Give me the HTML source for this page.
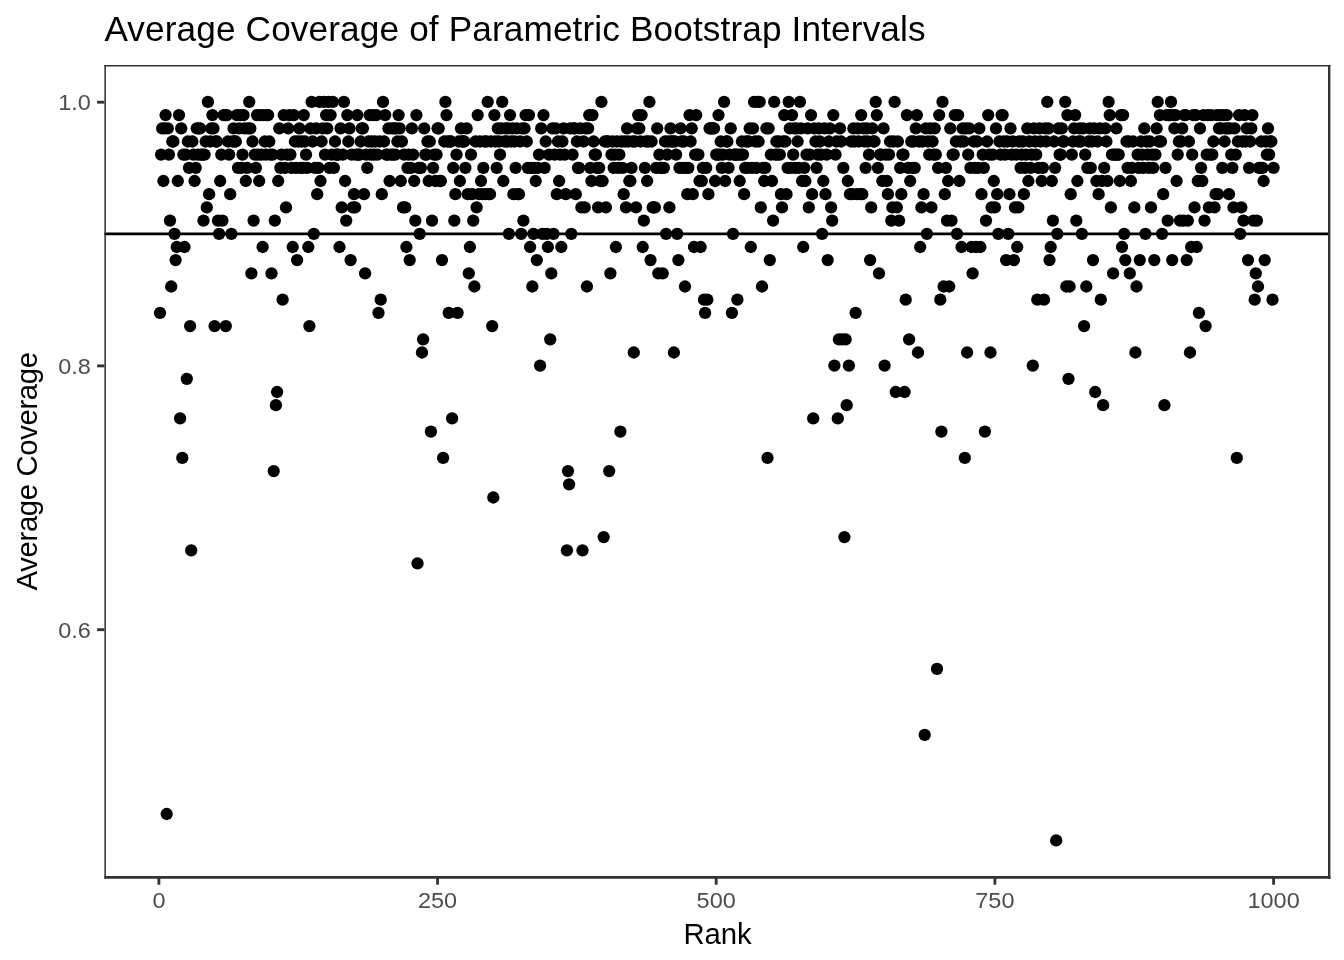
<!DOCTYPE html>
<html lang="en">
<head>
<meta charset="utf-8">
<title>Average Coverage of Parametric Bootstrap Intervals</title>
<style>
html,body{margin:0;padding:0;background:#fff;}
body{width:1344px;height:960px;overflow:hidden;}
svg{display:block;}
text{font-family:"Liberation Sans",Arial,Helvetica,sans-serif;}
.tk{fill:#4d4d4d;font-size:23.47px;}
.ax{fill:#000;font-size:29.33px;}
.ti{fill:#000;font-size:35.2px;}
</style>
</head>
<body>
<svg width="1344" height="960" viewBox="0 0 1344 960">
<rect x="0" y="0" width="1344" height="960" fill="#ffffff"/>
<text class="ti" x="104.4" y="41" textLength="821.2" lengthAdjust="spacing">Average Coverage of Parametric Bootstrap Intervals</text>
<g fill="#000000">
<circle cx="160.0" cy="312.9" r="6.15"/>
<circle cx="161.1" cy="154.6" r="6.15"/>
<circle cx="162.2" cy="128.3" r="6.15"/>
<circle cx="163.4" cy="181.0" r="6.15"/>
<circle cx="164.5" cy="128.3" r="6.15"/>
<circle cx="165.6" cy="115.1" r="6.15"/>
<circle cx="166.7" cy="814.0" r="6.15"/>
<circle cx="167.8" cy="128.3" r="6.15"/>
<circle cx="168.9" cy="154.6" r="6.15"/>
<circle cx="170.0" cy="220.6" r="6.15"/>
<circle cx="171.2" cy="286.5" r="6.15"/>
<circle cx="172.3" cy="141.5" r="6.15"/>
<circle cx="173.4" cy="141.5" r="6.15"/>
<circle cx="174.5" cy="233.8" r="6.15"/>
<circle cx="175.6" cy="260.1" r="6.15"/>
<circle cx="176.7" cy="247.0" r="6.15"/>
<circle cx="177.8" cy="181.0" r="6.15"/>
<circle cx="179.0" cy="115.1" r="6.15"/>
<circle cx="180.1" cy="418.4" r="6.15"/>
<circle cx="181.2" cy="128.3" r="6.15"/>
<circle cx="182.3" cy="457.9" r="6.15"/>
<circle cx="183.4" cy="154.6" r="6.15"/>
<circle cx="184.5" cy="247.0" r="6.15"/>
<circle cx="185.7" cy="154.6" r="6.15"/>
<circle cx="186.8" cy="378.8" r="6.15"/>
<circle cx="187.9" cy="141.5" r="6.15"/>
<circle cx="189.0" cy="167.8" r="6.15"/>
<circle cx="190.1" cy="326.1" r="6.15"/>
<circle cx="191.2" cy="550.3" r="6.15"/>
<circle cx="192.3" cy="141.5" r="6.15"/>
<circle cx="193.5" cy="154.6" r="6.15"/>
<circle cx="194.6" cy="181.0" r="6.15"/>
<circle cx="195.7" cy="167.8" r="6.15"/>
<circle cx="196.8" cy="128.3" r="6.15"/>
<circle cx="197.9" cy="154.6" r="6.15"/>
<circle cx="199.0" cy="128.3" r="6.15"/>
<circle cx="200.1" cy="128.3" r="6.15"/>
<circle cx="201.3" cy="154.6" r="6.15"/>
<circle cx="202.4" cy="154.6" r="6.15"/>
<circle cx="203.5" cy="220.6" r="6.15"/>
<circle cx="204.6" cy="154.6" r="6.15"/>
<circle cx="205.7" cy="141.5" r="6.15"/>
<circle cx="206.8" cy="207.4" r="6.15"/>
<circle cx="207.9" cy="101.9" r="6.15"/>
<circle cx="209.1" cy="194.2" r="6.15"/>
<circle cx="210.2" cy="141.5" r="6.15"/>
<circle cx="211.3" cy="128.3" r="6.15"/>
<circle cx="212.4" cy="115.1" r="6.15"/>
<circle cx="213.5" cy="128.3" r="6.15"/>
<circle cx="214.6" cy="326.1" r="6.15"/>
<circle cx="215.7" cy="141.5" r="6.15"/>
<circle cx="216.9" cy="141.5" r="6.15"/>
<circle cx="218.0" cy="220.6" r="6.15"/>
<circle cx="219.1" cy="233.8" r="6.15"/>
<circle cx="220.2" cy="181.0" r="6.15"/>
<circle cx="221.3" cy="154.6" r="6.15"/>
<circle cx="222.4" cy="220.6" r="6.15"/>
<circle cx="223.6" cy="115.1" r="6.15"/>
<circle cx="224.7" cy="115.1" r="6.15"/>
<circle cx="225.8" cy="326.1" r="6.15"/>
<circle cx="226.9" cy="115.1" r="6.15"/>
<circle cx="228.0" cy="141.5" r="6.15"/>
<circle cx="229.1" cy="154.6" r="6.15"/>
<circle cx="230.2" cy="194.2" r="6.15"/>
<circle cx="231.4" cy="233.8" r="6.15"/>
<circle cx="232.5" cy="141.5" r="6.15"/>
<circle cx="233.6" cy="128.3" r="6.15"/>
<circle cx="234.7" cy="141.5" r="6.15"/>
<circle cx="235.8" cy="141.5" r="6.15"/>
<circle cx="236.9" cy="115.1" r="6.15"/>
<circle cx="238.0" cy="167.8" r="6.15"/>
<circle cx="239.2" cy="128.3" r="6.15"/>
<circle cx="240.3" cy="115.1" r="6.15"/>
<circle cx="241.4" cy="167.8" r="6.15"/>
<circle cx="242.5" cy="154.6" r="6.15"/>
<circle cx="243.6" cy="115.1" r="6.15"/>
<circle cx="244.7" cy="128.3" r="6.15"/>
<circle cx="245.8" cy="181.0" r="6.15"/>
<circle cx="247.0" cy="167.8" r="6.15"/>
<circle cx="248.1" cy="128.3" r="6.15"/>
<circle cx="249.2" cy="101.9" r="6.15"/>
<circle cx="250.3" cy="128.3" r="6.15"/>
<circle cx="251.4" cy="273.3" r="6.15"/>
<circle cx="252.5" cy="141.5" r="6.15"/>
<circle cx="253.6" cy="220.6" r="6.15"/>
<circle cx="254.8" cy="154.6" r="6.15"/>
<circle cx="255.9" cy="167.8" r="6.15"/>
<circle cx="257.0" cy="115.1" r="6.15"/>
<circle cx="258.1" cy="154.6" r="6.15"/>
<circle cx="259.2" cy="181.0" r="6.15"/>
<circle cx="260.3" cy="115.1" r="6.15"/>
<circle cx="261.5" cy="154.6" r="6.15"/>
<circle cx="262.6" cy="247.0" r="6.15"/>
<circle cx="263.7" cy="115.1" r="6.15"/>
<circle cx="264.8" cy="141.5" r="6.15"/>
<circle cx="265.9" cy="154.6" r="6.15"/>
<circle cx="267.0" cy="115.1" r="6.15"/>
<circle cx="268.1" cy="115.1" r="6.15"/>
<circle cx="269.3" cy="141.5" r="6.15"/>
<circle cx="270.4" cy="154.6" r="6.15"/>
<circle cx="271.5" cy="273.3" r="6.15"/>
<circle cx="272.6" cy="154.6" r="6.15"/>
<circle cx="273.7" cy="471.1" r="6.15"/>
<circle cx="274.8" cy="220.6" r="6.15"/>
<circle cx="275.9" cy="405.2" r="6.15"/>
<circle cx="277.1" cy="392.0" r="6.15"/>
<circle cx="278.2" cy="181.0" r="6.15"/>
<circle cx="279.3" cy="128.3" r="6.15"/>
<circle cx="280.4" cy="167.8" r="6.15"/>
<circle cx="281.5" cy="154.6" r="6.15"/>
<circle cx="282.6" cy="299.7" r="6.15"/>
<circle cx="283.7" cy="115.1" r="6.15"/>
<circle cx="284.9" cy="167.8" r="6.15"/>
<circle cx="286.0" cy="207.4" r="6.15"/>
<circle cx="287.1" cy="154.6" r="6.15"/>
<circle cx="288.2" cy="128.3" r="6.15"/>
<circle cx="289.3" cy="115.1" r="6.15"/>
<circle cx="290.4" cy="154.6" r="6.15"/>
<circle cx="291.5" cy="167.8" r="6.15"/>
<circle cx="292.7" cy="247.0" r="6.15"/>
<circle cx="293.8" cy="115.1" r="6.15"/>
<circle cx="294.9" cy="141.5" r="6.15"/>
<circle cx="296.0" cy="167.8" r="6.15"/>
<circle cx="297.1" cy="260.1" r="6.15"/>
<circle cx="298.2" cy="141.5" r="6.15"/>
<circle cx="299.4" cy="128.3" r="6.15"/>
<circle cx="300.5" cy="167.8" r="6.15"/>
<circle cx="301.6" cy="141.5" r="6.15"/>
<circle cx="302.7" cy="167.8" r="6.15"/>
<circle cx="303.8" cy="115.1" r="6.15"/>
<circle cx="304.9" cy="141.5" r="6.15"/>
<circle cx="306.0" cy="154.6" r="6.15"/>
<circle cx="307.2" cy="167.8" r="6.15"/>
<circle cx="308.3" cy="247.0" r="6.15"/>
<circle cx="309.4" cy="326.1" r="6.15"/>
<circle cx="310.5" cy="128.3" r="6.15"/>
<circle cx="311.6" cy="101.9" r="6.15"/>
<circle cx="312.7" cy="141.5" r="6.15"/>
<circle cx="313.8" cy="233.8" r="6.15"/>
<circle cx="315.0" cy="167.8" r="6.15"/>
<circle cx="316.1" cy="128.3" r="6.15"/>
<circle cx="317.2" cy="194.2" r="6.15"/>
<circle cx="318.3" cy="167.8" r="6.15"/>
<circle cx="319.4" cy="101.9" r="6.15"/>
<circle cx="320.5" cy="181.0" r="6.15"/>
<circle cx="321.6" cy="141.5" r="6.15"/>
<circle cx="322.8" cy="128.3" r="6.15"/>
<circle cx="323.9" cy="101.9" r="6.15"/>
<circle cx="325.0" cy="154.6" r="6.15"/>
<circle cx="326.1" cy="115.1" r="6.15"/>
<circle cx="327.2" cy="128.3" r="6.15"/>
<circle cx="328.3" cy="101.9" r="6.15"/>
<circle cx="329.4" cy="167.8" r="6.15"/>
<circle cx="330.6" cy="115.1" r="6.15"/>
<circle cx="331.7" cy="154.6" r="6.15"/>
<circle cx="332.8" cy="101.9" r="6.15"/>
<circle cx="333.9" cy="167.8" r="6.15"/>
<circle cx="335.0" cy="141.5" r="6.15"/>
<circle cx="336.1" cy="154.6" r="6.15"/>
<circle cx="337.3" cy="154.6" r="6.15"/>
<circle cx="338.4" cy="154.6" r="6.15"/>
<circle cx="339.5" cy="247.0" r="6.15"/>
<circle cx="340.6" cy="128.3" r="6.15"/>
<circle cx="341.7" cy="207.4" r="6.15"/>
<circle cx="342.8" cy="154.6" r="6.15"/>
<circle cx="343.9" cy="101.9" r="6.15"/>
<circle cx="345.1" cy="181.0" r="6.15"/>
<circle cx="346.2" cy="220.6" r="6.15"/>
<circle cx="347.3" cy="115.1" r="6.15"/>
<circle cx="348.4" cy="141.5" r="6.15"/>
<circle cx="349.5" cy="128.3" r="6.15"/>
<circle cx="350.6" cy="260.1" r="6.15"/>
<circle cx="351.7" cy="154.6" r="6.15"/>
<circle cx="352.9" cy="207.4" r="6.15"/>
<circle cx="354.0" cy="194.2" r="6.15"/>
<circle cx="355.1" cy="207.4" r="6.15"/>
<circle cx="356.2" cy="154.6" r="6.15"/>
<circle cx="357.3" cy="115.1" r="6.15"/>
<circle cx="358.4" cy="154.6" r="6.15"/>
<circle cx="359.5" cy="154.6" r="6.15"/>
<circle cx="360.7" cy="141.5" r="6.15"/>
<circle cx="361.8" cy="128.3" r="6.15"/>
<circle cx="362.9" cy="128.3" r="6.15"/>
<circle cx="364.0" cy="194.2" r="6.15"/>
<circle cx="365.1" cy="273.3" r="6.15"/>
<circle cx="366.2" cy="154.6" r="6.15"/>
<circle cx="367.3" cy="167.8" r="6.15"/>
<circle cx="368.5" cy="141.5" r="6.15"/>
<circle cx="369.6" cy="115.1" r="6.15"/>
<circle cx="370.7" cy="154.6" r="6.15"/>
<circle cx="371.8" cy="141.5" r="6.15"/>
<circle cx="372.9" cy="115.1" r="6.15"/>
<circle cx="374.0" cy="154.6" r="6.15"/>
<circle cx="375.2" cy="141.5" r="6.15"/>
<circle cx="376.3" cy="115.1" r="6.15"/>
<circle cx="377.4" cy="154.6" r="6.15"/>
<circle cx="378.5" cy="312.9" r="6.15"/>
<circle cx="379.6" cy="141.5" r="6.15"/>
<circle cx="380.7" cy="299.7" r="6.15"/>
<circle cx="381.8" cy="194.2" r="6.15"/>
<circle cx="383.0" cy="101.9" r="6.15"/>
<circle cx="384.1" cy="141.5" r="6.15"/>
<circle cx="385.2" cy="115.1" r="6.15"/>
<circle cx="386.3" cy="154.6" r="6.15"/>
<circle cx="387.4" cy="154.6" r="6.15"/>
<circle cx="388.5" cy="128.3" r="6.15"/>
<circle cx="389.6" cy="181.0" r="6.15"/>
<circle cx="390.8" cy="154.6" r="6.15"/>
<circle cx="391.9" cy="128.3" r="6.15"/>
<circle cx="393.0" cy="154.6" r="6.15"/>
<circle cx="394.1" cy="128.3" r="6.15"/>
<circle cx="395.2" cy="154.6" r="6.15"/>
<circle cx="396.3" cy="128.3" r="6.15"/>
<circle cx="397.4" cy="141.5" r="6.15"/>
<circle cx="398.6" cy="115.1" r="6.15"/>
<circle cx="399.7" cy="128.3" r="6.15"/>
<circle cx="400.8" cy="181.0" r="6.15"/>
<circle cx="401.9" cy="141.5" r="6.15"/>
<circle cx="403.0" cy="207.4" r="6.15"/>
<circle cx="404.1" cy="154.6" r="6.15"/>
<circle cx="405.2" cy="207.4" r="6.15"/>
<circle cx="406.4" cy="247.0" r="6.15"/>
<circle cx="407.5" cy="167.8" r="6.15"/>
<circle cx="408.6" cy="154.6" r="6.15"/>
<circle cx="409.7" cy="260.1" r="6.15"/>
<circle cx="410.8" cy="167.8" r="6.15"/>
<circle cx="411.9" cy="128.3" r="6.15"/>
<circle cx="413.1" cy="154.6" r="6.15"/>
<circle cx="414.2" cy="181.0" r="6.15"/>
<circle cx="415.3" cy="220.6" r="6.15"/>
<circle cx="416.4" cy="115.1" r="6.15"/>
<circle cx="417.5" cy="563.4" r="6.15"/>
<circle cx="418.6" cy="167.8" r="6.15"/>
<circle cx="419.7" cy="233.8" r="6.15"/>
<circle cx="420.9" cy="167.8" r="6.15"/>
<circle cx="422.0" cy="352.5" r="6.15"/>
<circle cx="423.1" cy="339.3" r="6.15"/>
<circle cx="424.2" cy="128.3" r="6.15"/>
<circle cx="425.3" cy="154.6" r="6.15"/>
<circle cx="426.4" cy="154.6" r="6.15"/>
<circle cx="427.5" cy="141.5" r="6.15"/>
<circle cx="428.7" cy="181.0" r="6.15"/>
<circle cx="429.8" cy="141.5" r="6.15"/>
<circle cx="430.9" cy="431.6" r="6.15"/>
<circle cx="432.0" cy="220.6" r="6.15"/>
<circle cx="433.1" cy="167.8" r="6.15"/>
<circle cx="434.2" cy="154.6" r="6.15"/>
<circle cx="435.3" cy="181.0" r="6.15"/>
<circle cx="436.5" cy="154.6" r="6.15"/>
<circle cx="437.6" cy="128.3" r="6.15"/>
<circle cx="438.7" cy="128.3" r="6.15"/>
<circle cx="439.8" cy="181.0" r="6.15"/>
<circle cx="440.9" cy="181.0" r="6.15"/>
<circle cx="442.0" cy="260.1" r="6.15"/>
<circle cx="443.1" cy="457.9" r="6.15"/>
<circle cx="444.3" cy="141.5" r="6.15"/>
<circle cx="445.4" cy="101.9" r="6.15"/>
<circle cx="446.5" cy="115.1" r="6.15"/>
<circle cx="447.6" cy="141.5" r="6.15"/>
<circle cx="448.7" cy="312.9" r="6.15"/>
<circle cx="449.8" cy="141.5" r="6.15"/>
<circle cx="451.0" cy="141.5" r="6.15"/>
<circle cx="452.1" cy="418.4" r="6.15"/>
<circle cx="453.2" cy="167.8" r="6.15"/>
<circle cx="454.3" cy="220.6" r="6.15"/>
<circle cx="455.4" cy="194.2" r="6.15"/>
<circle cx="456.5" cy="154.6" r="6.15"/>
<circle cx="457.6" cy="312.9" r="6.15"/>
<circle cx="458.8" cy="141.5" r="6.15"/>
<circle cx="459.9" cy="181.0" r="6.15"/>
<circle cx="461.0" cy="128.3" r="6.15"/>
<circle cx="462.1" cy="141.5" r="6.15"/>
<circle cx="463.2" cy="141.5" r="6.15"/>
<circle cx="464.3" cy="141.5" r="6.15"/>
<circle cx="465.4" cy="167.8" r="6.15"/>
<circle cx="466.6" cy="128.3" r="6.15"/>
<circle cx="467.7" cy="194.2" r="6.15"/>
<circle cx="468.8" cy="273.3" r="6.15"/>
<circle cx="469.9" cy="247.0" r="6.15"/>
<circle cx="471.0" cy="154.6" r="6.15"/>
<circle cx="472.1" cy="194.2" r="6.15"/>
<circle cx="473.2" cy="220.6" r="6.15"/>
<circle cx="474.4" cy="286.5" r="6.15"/>
<circle cx="475.5" cy="141.5" r="6.15"/>
<circle cx="476.6" cy="207.4" r="6.15"/>
<circle cx="477.7" cy="115.1" r="6.15"/>
<circle cx="478.8" cy="194.2" r="6.15"/>
<circle cx="479.9" cy="141.5" r="6.15"/>
<circle cx="481.0" cy="181.0" r="6.15"/>
<circle cx="482.2" cy="194.2" r="6.15"/>
<circle cx="483.3" cy="167.8" r="6.15"/>
<circle cx="484.4" cy="141.5" r="6.15"/>
<circle cx="485.5" cy="194.2" r="6.15"/>
<circle cx="486.6" cy="141.5" r="6.15"/>
<circle cx="487.7" cy="101.9" r="6.15"/>
<circle cx="488.9" cy="194.2" r="6.15"/>
<circle cx="490.0" cy="194.2" r="6.15"/>
<circle cx="491.1" cy="141.5" r="6.15"/>
<circle cx="492.2" cy="326.1" r="6.15"/>
<circle cx="493.3" cy="497.5" r="6.15"/>
<circle cx="494.4" cy="115.1" r="6.15"/>
<circle cx="495.5" cy="141.5" r="6.15"/>
<circle cx="496.7" cy="167.8" r="6.15"/>
<circle cx="497.8" cy="128.3" r="6.15"/>
<circle cx="498.9" cy="141.5" r="6.15"/>
<circle cx="500.0" cy="154.6" r="6.15"/>
<circle cx="501.1" cy="128.3" r="6.15"/>
<circle cx="502.2" cy="101.9" r="6.15"/>
<circle cx="503.3" cy="181.0" r="6.15"/>
<circle cx="504.5" cy="141.5" r="6.15"/>
<circle cx="505.6" cy="128.3" r="6.15"/>
<circle cx="506.7" cy="141.5" r="6.15"/>
<circle cx="507.8" cy="128.3" r="6.15"/>
<circle cx="508.9" cy="233.8" r="6.15"/>
<circle cx="510.0" cy="115.1" r="6.15"/>
<circle cx="511.1" cy="141.5" r="6.15"/>
<circle cx="512.3" cy="128.3" r="6.15"/>
<circle cx="513.4" cy="194.2" r="6.15"/>
<circle cx="514.5" cy="141.5" r="6.15"/>
<circle cx="515.6" cy="167.8" r="6.15"/>
<circle cx="516.7" cy="128.3" r="6.15"/>
<circle cx="517.8" cy="194.2" r="6.15"/>
<circle cx="518.9" cy="194.2" r="6.15"/>
<circle cx="520.1" cy="141.5" r="6.15"/>
<circle cx="521.2" cy="233.8" r="6.15"/>
<circle cx="522.3" cy="128.3" r="6.15"/>
<circle cx="523.4" cy="220.6" r="6.15"/>
<circle cx="524.5" cy="128.3" r="6.15"/>
<circle cx="525.6" cy="115.1" r="6.15"/>
<circle cx="526.8" cy="141.5" r="6.15"/>
<circle cx="527.9" cy="167.8" r="6.15"/>
<circle cx="529.0" cy="115.1" r="6.15"/>
<circle cx="530.1" cy="247.0" r="6.15"/>
<circle cx="531.2" cy="167.8" r="6.15"/>
<circle cx="532.3" cy="286.5" r="6.15"/>
<circle cx="533.4" cy="233.8" r="6.15"/>
<circle cx="534.6" cy="167.8" r="6.15"/>
<circle cx="535.7" cy="181.0" r="6.15"/>
<circle cx="536.8" cy="260.1" r="6.15"/>
<circle cx="537.9" cy="167.8" r="6.15"/>
<circle cx="539.0" cy="154.6" r="6.15"/>
<circle cx="540.1" cy="365.6" r="6.15"/>
<circle cx="541.2" cy="128.3" r="6.15"/>
<circle cx="542.4" cy="233.8" r="6.15"/>
<circle cx="543.5" cy="115.1" r="6.15"/>
<circle cx="544.6" cy="167.8" r="6.15"/>
<circle cx="545.7" cy="141.5" r="6.15"/>
<circle cx="546.8" cy="233.8" r="6.15"/>
<circle cx="547.9" cy="247.0" r="6.15"/>
<circle cx="549.0" cy="154.6" r="6.15"/>
<circle cx="550.2" cy="339.3" r="6.15"/>
<circle cx="551.3" cy="273.3" r="6.15"/>
<circle cx="552.4" cy="128.3" r="6.15"/>
<circle cx="553.5" cy="233.8" r="6.15"/>
<circle cx="554.6" cy="154.6" r="6.15"/>
<circle cx="555.7" cy="128.3" r="6.15"/>
<circle cx="556.8" cy="194.2" r="6.15"/>
<circle cx="558.0" cy="141.5" r="6.15"/>
<circle cx="559.1" cy="181.0" r="6.15"/>
<circle cx="560.2" cy="154.6" r="6.15"/>
<circle cx="561.3" cy="247.0" r="6.15"/>
<circle cx="562.4" cy="141.5" r="6.15"/>
<circle cx="563.5" cy="128.3" r="6.15"/>
<circle cx="564.7" cy="154.6" r="6.15"/>
<circle cx="565.8" cy="194.2" r="6.15"/>
<circle cx="566.9" cy="550.3" r="6.15"/>
<circle cx="568.0" cy="471.1" r="6.15"/>
<circle cx="569.1" cy="484.3" r="6.15"/>
<circle cx="570.2" cy="128.3" r="6.15"/>
<circle cx="571.3" cy="233.8" r="6.15"/>
<circle cx="572.5" cy="154.6" r="6.15"/>
<circle cx="573.6" cy="128.3" r="6.15"/>
<circle cx="574.7" cy="128.3" r="6.15"/>
<circle cx="575.8" cy="194.2" r="6.15"/>
<circle cx="576.9" cy="141.5" r="6.15"/>
<circle cx="578.0" cy="167.8" r="6.15"/>
<circle cx="579.1" cy="167.8" r="6.15"/>
<circle cx="580.3" cy="128.3" r="6.15"/>
<circle cx="581.4" cy="207.4" r="6.15"/>
<circle cx="582.5" cy="550.3" r="6.15"/>
<circle cx="583.6" cy="141.5" r="6.15"/>
<circle cx="584.7" cy="207.4" r="6.15"/>
<circle cx="585.8" cy="128.3" r="6.15"/>
<circle cx="586.9" cy="286.5" r="6.15"/>
<circle cx="588.1" cy="128.3" r="6.15"/>
<circle cx="589.2" cy="115.1" r="6.15"/>
<circle cx="590.3" cy="167.8" r="6.15"/>
<circle cx="591.4" cy="181.0" r="6.15"/>
<circle cx="592.5" cy="115.1" r="6.15"/>
<circle cx="593.6" cy="141.5" r="6.15"/>
<circle cx="594.7" cy="154.6" r="6.15"/>
<circle cx="595.9" cy="154.6" r="6.15"/>
<circle cx="597.0" cy="167.8" r="6.15"/>
<circle cx="598.1" cy="207.4" r="6.15"/>
<circle cx="599.2" cy="167.8" r="6.15"/>
<circle cx="600.3" cy="181.0" r="6.15"/>
<circle cx="601.4" cy="101.9" r="6.15"/>
<circle cx="602.6" cy="181.0" r="6.15"/>
<circle cx="603.7" cy="537.1" r="6.15"/>
<circle cx="604.8" cy="141.5" r="6.15"/>
<circle cx="605.9" cy="207.4" r="6.15"/>
<circle cx="607.0" cy="141.5" r="6.15"/>
<circle cx="608.1" cy="141.5" r="6.15"/>
<circle cx="609.2" cy="471.1" r="6.15"/>
<circle cx="610.4" cy="273.3" r="6.15"/>
<circle cx="611.5" cy="154.6" r="6.15"/>
<circle cx="612.6" cy="141.5" r="6.15"/>
<circle cx="613.7" cy="167.8" r="6.15"/>
<circle cx="614.8" cy="154.6" r="6.15"/>
<circle cx="615.9" cy="247.0" r="6.15"/>
<circle cx="617.0" cy="141.5" r="6.15"/>
<circle cx="618.2" cy="167.8" r="6.15"/>
<circle cx="619.3" cy="154.6" r="6.15"/>
<circle cx="620.4" cy="431.6" r="6.15"/>
<circle cx="621.5" cy="141.5" r="6.15"/>
<circle cx="622.6" cy="167.8" r="6.15"/>
<circle cx="623.7" cy="194.2" r="6.15"/>
<circle cx="624.8" cy="141.5" r="6.15"/>
<circle cx="626.0" cy="207.4" r="6.15"/>
<circle cx="627.1" cy="128.3" r="6.15"/>
<circle cx="628.2" cy="141.5" r="6.15"/>
<circle cx="629.3" cy="181.0" r="6.15"/>
<circle cx="630.4" cy="181.0" r="6.15"/>
<circle cx="631.5" cy="167.8" r="6.15"/>
<circle cx="632.6" cy="141.5" r="6.15"/>
<circle cx="633.8" cy="352.5" r="6.15"/>
<circle cx="634.9" cy="141.5" r="6.15"/>
<circle cx="636.0" cy="207.4" r="6.15"/>
<circle cx="637.1" cy="128.3" r="6.15"/>
<circle cx="638.2" cy="115.1" r="6.15"/>
<circle cx="639.3" cy="128.3" r="6.15"/>
<circle cx="640.5" cy="141.5" r="6.15"/>
<circle cx="641.6" cy="115.1" r="6.15"/>
<circle cx="642.7" cy="247.0" r="6.15"/>
<circle cx="643.8" cy="220.6" r="6.15"/>
<circle cx="644.9" cy="167.8" r="6.15"/>
<circle cx="646.0" cy="141.5" r="6.15"/>
<circle cx="647.1" cy="181.0" r="6.15"/>
<circle cx="648.3" cy="141.5" r="6.15"/>
<circle cx="649.4" cy="101.9" r="6.15"/>
<circle cx="650.5" cy="260.1" r="6.15"/>
<circle cx="651.6" cy="141.5" r="6.15"/>
<circle cx="652.7" cy="207.4" r="6.15"/>
<circle cx="653.8" cy="207.4" r="6.15"/>
<circle cx="654.9" cy="207.4" r="6.15"/>
<circle cx="656.1" cy="167.8" r="6.15"/>
<circle cx="657.2" cy="128.3" r="6.15"/>
<circle cx="658.3" cy="273.3" r="6.15"/>
<circle cx="659.4" cy="154.6" r="6.15"/>
<circle cx="660.5" cy="167.8" r="6.15"/>
<circle cx="661.6" cy="167.8" r="6.15"/>
<circle cx="662.7" cy="273.3" r="6.15"/>
<circle cx="663.9" cy="167.8" r="6.15"/>
<circle cx="665.0" cy="141.5" r="6.15"/>
<circle cx="666.1" cy="233.8" r="6.15"/>
<circle cx="667.2" cy="154.6" r="6.15"/>
<circle cx="668.3" cy="141.5" r="6.15"/>
<circle cx="669.4" cy="207.4" r="6.15"/>
<circle cx="670.5" cy="128.3" r="6.15"/>
<circle cx="671.7" cy="141.5" r="6.15"/>
<circle cx="672.8" cy="141.5" r="6.15"/>
<circle cx="673.9" cy="352.5" r="6.15"/>
<circle cx="675.0" cy="141.5" r="6.15"/>
<circle cx="676.1" cy="154.6" r="6.15"/>
<circle cx="677.2" cy="233.8" r="6.15"/>
<circle cx="678.4" cy="260.1" r="6.15"/>
<circle cx="679.5" cy="167.8" r="6.15"/>
<circle cx="680.6" cy="128.3" r="6.15"/>
<circle cx="681.7" cy="141.5" r="6.15"/>
<circle cx="682.8" cy="167.8" r="6.15"/>
<circle cx="683.9" cy="141.5" r="6.15"/>
<circle cx="685.0" cy="286.5" r="6.15"/>
<circle cx="686.2" cy="167.8" r="6.15"/>
<circle cx="687.3" cy="194.2" r="6.15"/>
<circle cx="688.4" cy="167.8" r="6.15"/>
<circle cx="689.5" cy="115.1" r="6.15"/>
<circle cx="690.6" cy="141.5" r="6.15"/>
<circle cx="691.7" cy="128.3" r="6.15"/>
<circle cx="692.8" cy="194.2" r="6.15"/>
<circle cx="694.0" cy="247.0" r="6.15"/>
<circle cx="695.1" cy="154.6" r="6.15"/>
<circle cx="696.2" cy="115.1" r="6.15"/>
<circle cx="697.3" cy="154.6" r="6.15"/>
<circle cx="698.4" cy="154.6" r="6.15"/>
<circle cx="699.5" cy="181.0" r="6.15"/>
<circle cx="700.6" cy="247.0" r="6.15"/>
<circle cx="701.8" cy="181.0" r="6.15"/>
<circle cx="702.9" cy="167.8" r="6.15"/>
<circle cx="704.0" cy="299.7" r="6.15"/>
<circle cx="705.1" cy="312.9" r="6.15"/>
<circle cx="706.2" cy="167.8" r="6.15"/>
<circle cx="707.3" cy="299.7" r="6.15"/>
<circle cx="708.4" cy="194.2" r="6.15"/>
<circle cx="709.6" cy="128.3" r="6.15"/>
<circle cx="710.7" cy="128.3" r="6.15"/>
<circle cx="711.8" cy="128.3" r="6.15"/>
<circle cx="712.9" cy="128.3" r="6.15"/>
<circle cx="714.0" cy="128.3" r="6.15"/>
<circle cx="715.1" cy="181.0" r="6.15"/>
<circle cx="716.2" cy="154.6" r="6.15"/>
<circle cx="717.4" cy="154.6" r="6.15"/>
<circle cx="718.5" cy="115.1" r="6.15"/>
<circle cx="719.6" cy="154.6" r="6.15"/>
<circle cx="720.7" cy="141.5" r="6.15"/>
<circle cx="721.8" cy="167.8" r="6.15"/>
<circle cx="722.9" cy="154.6" r="6.15"/>
<circle cx="724.1" cy="101.9" r="6.15"/>
<circle cx="725.2" cy="181.0" r="6.15"/>
<circle cx="726.3" cy="141.5" r="6.15"/>
<circle cx="727.4" cy="141.5" r="6.15"/>
<circle cx="728.5" cy="167.8" r="6.15"/>
<circle cx="729.6" cy="154.6" r="6.15"/>
<circle cx="730.7" cy="128.3" r="6.15"/>
<circle cx="731.9" cy="312.9" r="6.15"/>
<circle cx="733.0" cy="233.8" r="6.15"/>
<circle cx="734.1" cy="154.6" r="6.15"/>
<circle cx="735.2" cy="154.6" r="6.15"/>
<circle cx="736.3" cy="154.6" r="6.15"/>
<circle cx="737.4" cy="299.7" r="6.15"/>
<circle cx="738.5" cy="154.6" r="6.15"/>
<circle cx="739.7" cy="181.0" r="6.15"/>
<circle cx="740.8" cy="154.6" r="6.15"/>
<circle cx="741.9" cy="141.5" r="6.15"/>
<circle cx="743.0" cy="154.6" r="6.15"/>
<circle cx="744.1" cy="194.2" r="6.15"/>
<circle cx="745.2" cy="167.8" r="6.15"/>
<circle cx="746.3" cy="141.5" r="6.15"/>
<circle cx="747.5" cy="167.8" r="6.15"/>
<circle cx="748.6" cy="141.5" r="6.15"/>
<circle cx="749.7" cy="128.3" r="6.15"/>
<circle cx="750.8" cy="247.0" r="6.15"/>
<circle cx="751.9" cy="167.8" r="6.15"/>
<circle cx="753.0" cy="128.3" r="6.15"/>
<circle cx="754.1" cy="101.9" r="6.15"/>
<circle cx="755.3" cy="141.5" r="6.15"/>
<circle cx="756.4" cy="167.8" r="6.15"/>
<circle cx="757.5" cy="101.9" r="6.15"/>
<circle cx="758.6" cy="141.5" r="6.15"/>
<circle cx="759.7" cy="101.9" r="6.15"/>
<circle cx="760.8" cy="207.4" r="6.15"/>
<circle cx="762.0" cy="286.5" r="6.15"/>
<circle cx="763.1" cy="167.8" r="6.15"/>
<circle cx="764.2" cy="181.0" r="6.15"/>
<circle cx="765.3" cy="167.8" r="6.15"/>
<circle cx="766.4" cy="128.3" r="6.15"/>
<circle cx="767.5" cy="457.9" r="6.15"/>
<circle cx="768.6" cy="128.3" r="6.15"/>
<circle cx="769.8" cy="260.1" r="6.15"/>
<circle cx="770.9" cy="154.6" r="6.15"/>
<circle cx="772.0" cy="181.0" r="6.15"/>
<circle cx="773.1" cy="220.6" r="6.15"/>
<circle cx="774.2" cy="101.9" r="6.15"/>
<circle cx="775.3" cy="154.6" r="6.15"/>
<circle cx="776.4" cy="141.5" r="6.15"/>
<circle cx="777.6" cy="154.6" r="6.15"/>
<circle cx="778.7" cy="141.5" r="6.15"/>
<circle cx="779.8" cy="154.6" r="6.15"/>
<circle cx="780.9" cy="194.2" r="6.15"/>
<circle cx="782.0" cy="207.4" r="6.15"/>
<circle cx="783.1" cy="141.5" r="6.15"/>
<circle cx="784.2" cy="115.1" r="6.15"/>
<circle cx="785.4" cy="141.5" r="6.15"/>
<circle cx="786.5" cy="194.2" r="6.15"/>
<circle cx="787.6" cy="167.8" r="6.15"/>
<circle cx="788.7" cy="101.9" r="6.15"/>
<circle cx="789.8" cy="128.3" r="6.15"/>
<circle cx="790.9" cy="167.8" r="6.15"/>
<circle cx="792.0" cy="115.1" r="6.15"/>
<circle cx="793.2" cy="154.6" r="6.15"/>
<circle cx="794.3" cy="128.3" r="6.15"/>
<circle cx="795.4" cy="167.8" r="6.15"/>
<circle cx="796.5" cy="128.3" r="6.15"/>
<circle cx="797.6" cy="141.5" r="6.15"/>
<circle cx="798.7" cy="167.8" r="6.15"/>
<circle cx="799.9" cy="101.9" r="6.15"/>
<circle cx="801.0" cy="128.3" r="6.15"/>
<circle cx="802.1" cy="181.0" r="6.15"/>
<circle cx="803.2" cy="247.0" r="6.15"/>
<circle cx="804.3" cy="167.8" r="6.15"/>
<circle cx="805.4" cy="181.0" r="6.15"/>
<circle cx="806.5" cy="154.6" r="6.15"/>
<circle cx="807.7" cy="128.3" r="6.15"/>
<circle cx="808.8" cy="207.4" r="6.15"/>
<circle cx="809.9" cy="154.6" r="6.15"/>
<circle cx="811.0" cy="115.1" r="6.15"/>
<circle cx="812.1" cy="194.2" r="6.15"/>
<circle cx="813.2" cy="418.4" r="6.15"/>
<circle cx="814.3" cy="128.3" r="6.15"/>
<circle cx="815.5" cy="141.5" r="6.15"/>
<circle cx="816.6" cy="167.8" r="6.15"/>
<circle cx="817.7" cy="154.6" r="6.15"/>
<circle cx="818.8" cy="128.3" r="6.15"/>
<circle cx="819.9" cy="141.5" r="6.15"/>
<circle cx="821.0" cy="154.6" r="6.15"/>
<circle cx="822.1" cy="233.8" r="6.15"/>
<circle cx="823.3" cy="181.0" r="6.15"/>
<circle cx="824.4" cy="128.3" r="6.15"/>
<circle cx="825.5" cy="194.2" r="6.15"/>
<circle cx="826.6" cy="154.6" r="6.15"/>
<circle cx="827.7" cy="260.1" r="6.15"/>
<circle cx="828.8" cy="141.5" r="6.15"/>
<circle cx="829.9" cy="128.3" r="6.15"/>
<circle cx="831.1" cy="207.4" r="6.15"/>
<circle cx="832.2" cy="220.6" r="6.15"/>
<circle cx="833.3" cy="115.1" r="6.15"/>
<circle cx="834.4" cy="365.6" r="6.15"/>
<circle cx="835.5" cy="154.6" r="6.15"/>
<circle cx="836.6" cy="141.5" r="6.15"/>
<circle cx="837.8" cy="418.4" r="6.15"/>
<circle cx="838.9" cy="339.3" r="6.15"/>
<circle cx="840.0" cy="128.3" r="6.15"/>
<circle cx="841.1" cy="141.5" r="6.15"/>
<circle cx="842.2" cy="339.3" r="6.15"/>
<circle cx="843.3" cy="167.8" r="6.15"/>
<circle cx="844.4" cy="537.1" r="6.15"/>
<circle cx="845.6" cy="339.3" r="6.15"/>
<circle cx="846.7" cy="405.2" r="6.15"/>
<circle cx="847.8" cy="181.0" r="6.15"/>
<circle cx="848.9" cy="365.6" r="6.15"/>
<circle cx="850.0" cy="194.2" r="6.15"/>
<circle cx="851.1" cy="141.5" r="6.15"/>
<circle cx="852.2" cy="194.2" r="6.15"/>
<circle cx="853.4" cy="128.3" r="6.15"/>
<circle cx="854.5" cy="141.5" r="6.15"/>
<circle cx="855.6" cy="312.9" r="6.15"/>
<circle cx="856.7" cy="194.2" r="6.15"/>
<circle cx="857.8" cy="128.3" r="6.15"/>
<circle cx="858.9" cy="141.5" r="6.15"/>
<circle cx="860.0" cy="194.2" r="6.15"/>
<circle cx="861.2" cy="115.1" r="6.15"/>
<circle cx="862.3" cy="194.2" r="6.15"/>
<circle cx="863.4" cy="128.3" r="6.15"/>
<circle cx="864.5" cy="141.5" r="6.15"/>
<circle cx="865.6" cy="167.8" r="6.15"/>
<circle cx="866.7" cy="128.3" r="6.15"/>
<circle cx="867.8" cy="141.5" r="6.15"/>
<circle cx="869.0" cy="154.6" r="6.15"/>
<circle cx="870.1" cy="260.1" r="6.15"/>
<circle cx="871.2" cy="207.4" r="6.15"/>
<circle cx="872.3" cy="128.3" r="6.15"/>
<circle cx="873.4" cy="141.5" r="6.15"/>
<circle cx="874.5" cy="141.5" r="6.15"/>
<circle cx="875.7" cy="101.9" r="6.15"/>
<circle cx="876.8" cy="115.1" r="6.15"/>
<circle cx="877.9" cy="167.8" r="6.15"/>
<circle cx="879.0" cy="273.3" r="6.15"/>
<circle cx="880.1" cy="154.6" r="6.15"/>
<circle cx="881.2" cy="154.6" r="6.15"/>
<circle cx="882.3" cy="181.0" r="6.15"/>
<circle cx="883.5" cy="128.3" r="6.15"/>
<circle cx="884.6" cy="365.6" r="6.15"/>
<circle cx="885.7" cy="154.6" r="6.15"/>
<circle cx="886.8" cy="181.0" r="6.15"/>
<circle cx="887.9" cy="194.2" r="6.15"/>
<circle cx="889.0" cy="154.6" r="6.15"/>
<circle cx="890.1" cy="141.5" r="6.15"/>
<circle cx="891.3" cy="220.6" r="6.15"/>
<circle cx="892.4" cy="207.4" r="6.15"/>
<circle cx="893.5" cy="141.5" r="6.15"/>
<circle cx="894.6" cy="101.9" r="6.15"/>
<circle cx="895.7" cy="392.0" r="6.15"/>
<circle cx="896.8" cy="207.4" r="6.15"/>
<circle cx="897.9" cy="141.5" r="6.15"/>
<circle cx="899.1" cy="220.6" r="6.15"/>
<circle cx="900.2" cy="167.8" r="6.15"/>
<circle cx="901.3" cy="194.2" r="6.15"/>
<circle cx="902.4" cy="154.6" r="6.15"/>
<circle cx="903.5" cy="154.6" r="6.15"/>
<circle cx="904.6" cy="392.0" r="6.15"/>
<circle cx="905.7" cy="299.7" r="6.15"/>
<circle cx="906.9" cy="115.1" r="6.15"/>
<circle cx="908.0" cy="167.8" r="6.15"/>
<circle cx="909.1" cy="339.3" r="6.15"/>
<circle cx="910.2" cy="181.0" r="6.15"/>
<circle cx="911.3" cy="141.5" r="6.15"/>
<circle cx="912.4" cy="167.8" r="6.15"/>
<circle cx="913.6" cy="141.5" r="6.15"/>
<circle cx="914.7" cy="167.8" r="6.15"/>
<circle cx="915.8" cy="128.3" r="6.15"/>
<circle cx="916.9" cy="115.1" r="6.15"/>
<circle cx="918.0" cy="352.5" r="6.15"/>
<circle cx="919.1" cy="141.5" r="6.15"/>
<circle cx="920.2" cy="247.0" r="6.15"/>
<circle cx="921.4" cy="207.4" r="6.15"/>
<circle cx="922.5" cy="141.5" r="6.15"/>
<circle cx="923.6" cy="194.2" r="6.15"/>
<circle cx="924.7" cy="734.9" r="6.15"/>
<circle cx="925.8" cy="128.3" r="6.15"/>
<circle cx="926.9" cy="233.8" r="6.15"/>
<circle cx="928.0" cy="141.5" r="6.15"/>
<circle cx="929.2" cy="154.6" r="6.15"/>
<circle cx="930.3" cy="128.3" r="6.15"/>
<circle cx="931.4" cy="207.4" r="6.15"/>
<circle cx="932.5" cy="141.5" r="6.15"/>
<circle cx="933.6" cy="154.6" r="6.15"/>
<circle cx="934.7" cy="128.3" r="6.15"/>
<circle cx="935.8" cy="154.6" r="6.15"/>
<circle cx="937.0" cy="668.9" r="6.15"/>
<circle cx="938.1" cy="167.8" r="6.15"/>
<circle cx="939.2" cy="115.1" r="6.15"/>
<circle cx="940.3" cy="299.7" r="6.15"/>
<circle cx="941.4" cy="431.6" r="6.15"/>
<circle cx="942.5" cy="101.9" r="6.15"/>
<circle cx="943.6" cy="286.5" r="6.15"/>
<circle cx="944.8" cy="194.2" r="6.15"/>
<circle cx="945.9" cy="167.8" r="6.15"/>
<circle cx="947.0" cy="220.6" r="6.15"/>
<circle cx="948.1" cy="181.0" r="6.15"/>
<circle cx="949.2" cy="286.5" r="6.15"/>
<circle cx="950.3" cy="128.3" r="6.15"/>
<circle cx="951.5" cy="220.6" r="6.15"/>
<circle cx="952.6" cy="154.6" r="6.15"/>
<circle cx="953.7" cy="154.6" r="6.15"/>
<circle cx="954.8" cy="115.1" r="6.15"/>
<circle cx="955.9" cy="141.5" r="6.15"/>
<circle cx="957.0" cy="233.8" r="6.15"/>
<circle cx="958.1" cy="115.1" r="6.15"/>
<circle cx="959.3" cy="181.0" r="6.15"/>
<circle cx="960.4" cy="141.5" r="6.15"/>
<circle cx="961.5" cy="247.0" r="6.15"/>
<circle cx="962.6" cy="128.3" r="6.15"/>
<circle cx="963.7" cy="141.5" r="6.15"/>
<circle cx="964.8" cy="457.9" r="6.15"/>
<circle cx="965.9" cy="128.3" r="6.15"/>
<circle cx="967.1" cy="352.5" r="6.15"/>
<circle cx="968.2" cy="154.6" r="6.15"/>
<circle cx="969.3" cy="128.3" r="6.15"/>
<circle cx="970.4" cy="167.8" r="6.15"/>
<circle cx="971.5" cy="247.0" r="6.15"/>
<circle cx="972.6" cy="273.3" r="6.15"/>
<circle cx="973.7" cy="141.5" r="6.15"/>
<circle cx="974.9" cy="167.8" r="6.15"/>
<circle cx="976.0" cy="247.0" r="6.15"/>
<circle cx="977.1" cy="141.5" r="6.15"/>
<circle cx="978.2" cy="167.8" r="6.15"/>
<circle cx="979.3" cy="128.3" r="6.15"/>
<circle cx="980.4" cy="247.0" r="6.15"/>
<circle cx="981.5" cy="194.2" r="6.15"/>
<circle cx="982.7" cy="154.6" r="6.15"/>
<circle cx="983.8" cy="167.8" r="6.15"/>
<circle cx="984.9" cy="431.6" r="6.15"/>
<circle cx="986.0" cy="220.6" r="6.15"/>
<circle cx="987.1" cy="141.5" r="6.15"/>
<circle cx="988.2" cy="115.1" r="6.15"/>
<circle cx="989.4" cy="154.6" r="6.15"/>
<circle cx="990.5" cy="352.5" r="6.15"/>
<circle cx="991.6" cy="207.4" r="6.15"/>
<circle cx="992.7" cy="154.6" r="6.15"/>
<circle cx="993.8" cy="181.0" r="6.15"/>
<circle cx="994.9" cy="207.4" r="6.15"/>
<circle cx="996.0" cy="128.3" r="6.15"/>
<circle cx="997.2" cy="194.2" r="6.15"/>
<circle cx="998.3" cy="233.8" r="6.15"/>
<circle cx="999.4" cy="141.5" r="6.15"/>
<circle cx="1000.5" cy="154.6" r="6.15"/>
<circle cx="1001.6" cy="115.1" r="6.15"/>
<circle cx="1002.7" cy="115.1" r="6.15"/>
<circle cx="1003.8" cy="141.5" r="6.15"/>
<circle cx="1005.0" cy="154.6" r="6.15"/>
<circle cx="1006.1" cy="260.1" r="6.15"/>
<circle cx="1007.2" cy="141.5" r="6.15"/>
<circle cx="1008.3" cy="233.8" r="6.15"/>
<circle cx="1009.4" cy="194.2" r="6.15"/>
<circle cx="1010.5" cy="128.3" r="6.15"/>
<circle cx="1011.6" cy="154.6" r="6.15"/>
<circle cx="1012.8" cy="141.5" r="6.15"/>
<circle cx="1013.9" cy="260.1" r="6.15"/>
<circle cx="1015.0" cy="207.4" r="6.15"/>
<circle cx="1016.1" cy="154.6" r="6.15"/>
<circle cx="1017.2" cy="247.0" r="6.15"/>
<circle cx="1018.3" cy="207.4" r="6.15"/>
<circle cx="1019.4" cy="141.5" r="6.15"/>
<circle cx="1020.6" cy="167.8" r="6.15"/>
<circle cx="1021.7" cy="154.6" r="6.15"/>
<circle cx="1022.8" cy="141.5" r="6.15"/>
<circle cx="1023.9" cy="194.2" r="6.15"/>
<circle cx="1025.0" cy="167.8" r="6.15"/>
<circle cx="1026.1" cy="154.6" r="6.15"/>
<circle cx="1027.3" cy="128.3" r="6.15"/>
<circle cx="1028.4" cy="181.0" r="6.15"/>
<circle cx="1029.5" cy="141.5" r="6.15"/>
<circle cx="1030.6" cy="167.8" r="6.15"/>
<circle cx="1031.7" cy="154.6" r="6.15"/>
<circle cx="1032.8" cy="365.6" r="6.15"/>
<circle cx="1033.9" cy="128.3" r="6.15"/>
<circle cx="1035.1" cy="141.5" r="6.15"/>
<circle cx="1036.2" cy="154.6" r="6.15"/>
<circle cx="1037.3" cy="299.7" r="6.15"/>
<circle cx="1038.4" cy="167.8" r="6.15"/>
<circle cx="1039.5" cy="128.3" r="6.15"/>
<circle cx="1040.6" cy="141.5" r="6.15"/>
<circle cx="1041.7" cy="181.0" r="6.15"/>
<circle cx="1042.9" cy="167.8" r="6.15"/>
<circle cx="1044.0" cy="299.7" r="6.15"/>
<circle cx="1045.1" cy="128.3" r="6.15"/>
<circle cx="1046.2" cy="141.5" r="6.15"/>
<circle cx="1047.3" cy="101.9" r="6.15"/>
<circle cx="1048.4" cy="128.3" r="6.15"/>
<circle cx="1049.5" cy="260.1" r="6.15"/>
<circle cx="1050.7" cy="247.0" r="6.15"/>
<circle cx="1051.8" cy="181.0" r="6.15"/>
<circle cx="1052.9" cy="220.6" r="6.15"/>
<circle cx="1054.0" cy="141.5" r="6.15"/>
<circle cx="1055.1" cy="167.8" r="6.15"/>
<circle cx="1056.2" cy="840.4" r="6.15"/>
<circle cx="1057.3" cy="233.8" r="6.15"/>
<circle cx="1058.5" cy="128.3" r="6.15"/>
<circle cx="1059.6" cy="154.6" r="6.15"/>
<circle cx="1060.7" cy="154.6" r="6.15"/>
<circle cx="1061.8" cy="128.3" r="6.15"/>
<circle cx="1062.9" cy="141.5" r="6.15"/>
<circle cx="1064.0" cy="141.5" r="6.15"/>
<circle cx="1065.2" cy="101.9" r="6.15"/>
<circle cx="1066.3" cy="286.5" r="6.15"/>
<circle cx="1067.4" cy="115.1" r="6.15"/>
<circle cx="1068.5" cy="378.8" r="6.15"/>
<circle cx="1069.6" cy="286.5" r="6.15"/>
<circle cx="1070.7" cy="194.2" r="6.15"/>
<circle cx="1071.8" cy="154.6" r="6.15"/>
<circle cx="1073.0" cy="141.5" r="6.15"/>
<circle cx="1074.1" cy="128.3" r="6.15"/>
<circle cx="1075.2" cy="115.1" r="6.15"/>
<circle cx="1076.3" cy="220.6" r="6.15"/>
<circle cx="1077.4" cy="181.0" r="6.15"/>
<circle cx="1078.5" cy="141.5" r="6.15"/>
<circle cx="1079.6" cy="128.3" r="6.15"/>
<circle cx="1080.8" cy="141.5" r="6.15"/>
<circle cx="1081.9" cy="233.8" r="6.15"/>
<circle cx="1083.0" cy="128.3" r="6.15"/>
<circle cx="1084.1" cy="326.1" r="6.15"/>
<circle cx="1085.2" cy="154.6" r="6.15"/>
<circle cx="1086.3" cy="286.5" r="6.15"/>
<circle cx="1087.4" cy="167.8" r="6.15"/>
<circle cx="1088.6" cy="141.5" r="6.15"/>
<circle cx="1089.7" cy="128.3" r="6.15"/>
<circle cx="1090.8" cy="167.8" r="6.15"/>
<circle cx="1091.9" cy="141.5" r="6.15"/>
<circle cx="1093.0" cy="260.1" r="6.15"/>
<circle cx="1094.1" cy="128.3" r="6.15"/>
<circle cx="1095.2" cy="392.0" r="6.15"/>
<circle cx="1096.4" cy="181.0" r="6.15"/>
<circle cx="1097.5" cy="141.5" r="6.15"/>
<circle cx="1098.6" cy="194.2" r="6.15"/>
<circle cx="1099.7" cy="128.3" r="6.15"/>
<circle cx="1100.8" cy="299.7" r="6.15"/>
<circle cx="1101.9" cy="181.0" r="6.15"/>
<circle cx="1103.1" cy="405.2" r="6.15"/>
<circle cx="1104.2" cy="167.8" r="6.15"/>
<circle cx="1105.3" cy="128.3" r="6.15"/>
<circle cx="1106.4" cy="141.5" r="6.15"/>
<circle cx="1107.5" cy="181.0" r="6.15"/>
<circle cx="1108.6" cy="101.9" r="6.15"/>
<circle cx="1109.7" cy="115.1" r="6.15"/>
<circle cx="1110.9" cy="207.4" r="6.15"/>
<circle cx="1112.0" cy="154.6" r="6.15"/>
<circle cx="1113.1" cy="273.3" r="6.15"/>
<circle cx="1114.2" cy="154.6" r="6.15"/>
<circle cx="1115.3" cy="154.6" r="6.15"/>
<circle cx="1116.4" cy="128.3" r="6.15"/>
<circle cx="1117.5" cy="154.6" r="6.15"/>
<circle cx="1118.7" cy="154.6" r="6.15"/>
<circle cx="1119.8" cy="181.0" r="6.15"/>
<circle cx="1120.9" cy="115.1" r="6.15"/>
<circle cx="1122.0" cy="247.0" r="6.15"/>
<circle cx="1123.1" cy="115.1" r="6.15"/>
<circle cx="1124.2" cy="233.8" r="6.15"/>
<circle cx="1125.3" cy="260.1" r="6.15"/>
<circle cx="1126.5" cy="141.5" r="6.15"/>
<circle cx="1127.6" cy="167.8" r="6.15"/>
<circle cx="1128.7" cy="141.5" r="6.15"/>
<circle cx="1129.8" cy="273.3" r="6.15"/>
<circle cx="1130.9" cy="181.0" r="6.15"/>
<circle cx="1132.0" cy="167.8" r="6.15"/>
<circle cx="1133.1" cy="141.5" r="6.15"/>
<circle cx="1134.3" cy="207.4" r="6.15"/>
<circle cx="1135.4" cy="352.5" r="6.15"/>
<circle cx="1136.5" cy="286.5" r="6.15"/>
<circle cx="1137.6" cy="154.6" r="6.15"/>
<circle cx="1138.7" cy="167.8" r="6.15"/>
<circle cx="1139.8" cy="260.1" r="6.15"/>
<circle cx="1141.0" cy="141.5" r="6.15"/>
<circle cx="1142.1" cy="154.6" r="6.15"/>
<circle cx="1143.2" cy="167.8" r="6.15"/>
<circle cx="1144.3" cy="128.3" r="6.15"/>
<circle cx="1145.4" cy="233.8" r="6.15"/>
<circle cx="1146.5" cy="141.5" r="6.15"/>
<circle cx="1147.6" cy="154.6" r="6.15"/>
<circle cx="1148.8" cy="167.8" r="6.15"/>
<circle cx="1149.9" cy="141.5" r="6.15"/>
<circle cx="1151.0" cy="207.4" r="6.15"/>
<circle cx="1152.1" cy="154.6" r="6.15"/>
<circle cx="1153.2" cy="167.8" r="6.15"/>
<circle cx="1154.3" cy="260.1" r="6.15"/>
<circle cx="1155.4" cy="154.6" r="6.15"/>
<circle cx="1156.6" cy="128.3" r="6.15"/>
<circle cx="1157.7" cy="101.9" r="6.15"/>
<circle cx="1158.8" cy="141.5" r="6.15"/>
<circle cx="1159.9" cy="115.1" r="6.15"/>
<circle cx="1161.0" cy="141.5" r="6.15"/>
<circle cx="1162.1" cy="233.8" r="6.15"/>
<circle cx="1163.2" cy="194.2" r="6.15"/>
<circle cx="1164.4" cy="405.2" r="6.15"/>
<circle cx="1165.5" cy="167.8" r="6.15"/>
<circle cx="1166.6" cy="115.1" r="6.15"/>
<circle cx="1167.7" cy="220.6" r="6.15"/>
<circle cx="1168.8" cy="115.1" r="6.15"/>
<circle cx="1169.9" cy="115.1" r="6.15"/>
<circle cx="1171.0" cy="101.9" r="6.15"/>
<circle cx="1172.2" cy="260.1" r="6.15"/>
<circle cx="1173.3" cy="115.1" r="6.15"/>
<circle cx="1174.4" cy="128.3" r="6.15"/>
<circle cx="1175.5" cy="115.1" r="6.15"/>
<circle cx="1176.6" cy="181.0" r="6.15"/>
<circle cx="1177.7" cy="154.6" r="6.15"/>
<circle cx="1178.9" cy="141.5" r="6.15"/>
<circle cx="1180.0" cy="220.6" r="6.15"/>
<circle cx="1181.1" cy="141.5" r="6.15"/>
<circle cx="1182.2" cy="128.3" r="6.15"/>
<circle cx="1183.3" cy="220.6" r="6.15"/>
<circle cx="1184.4" cy="115.1" r="6.15"/>
<circle cx="1185.5" cy="115.1" r="6.15"/>
<circle cx="1186.7" cy="260.1" r="6.15"/>
<circle cx="1187.8" cy="220.6" r="6.15"/>
<circle cx="1188.9" cy="141.5" r="6.15"/>
<circle cx="1190.0" cy="352.5" r="6.15"/>
<circle cx="1191.1" cy="247.0" r="6.15"/>
<circle cx="1192.2" cy="154.6" r="6.15"/>
<circle cx="1193.3" cy="115.1" r="6.15"/>
<circle cx="1194.5" cy="207.4" r="6.15"/>
<circle cx="1195.6" cy="115.1" r="6.15"/>
<circle cx="1196.7" cy="247.0" r="6.15"/>
<circle cx="1197.8" cy="181.0" r="6.15"/>
<circle cx="1198.9" cy="312.9" r="6.15"/>
<circle cx="1200.0" cy="128.3" r="6.15"/>
<circle cx="1201.1" cy="167.8" r="6.15"/>
<circle cx="1202.3" cy="181.0" r="6.15"/>
<circle cx="1203.4" cy="115.1" r="6.15"/>
<circle cx="1204.5" cy="220.6" r="6.15"/>
<circle cx="1205.6" cy="326.1" r="6.15"/>
<circle cx="1206.7" cy="154.6" r="6.15"/>
<circle cx="1207.8" cy="115.1" r="6.15"/>
<circle cx="1208.9" cy="207.4" r="6.15"/>
<circle cx="1210.1" cy="154.6" r="6.15"/>
<circle cx="1211.2" cy="115.1" r="6.15"/>
<circle cx="1212.3" cy="154.6" r="6.15"/>
<circle cx="1213.4" cy="141.5" r="6.15"/>
<circle cx="1214.5" cy="207.4" r="6.15"/>
<circle cx="1215.6" cy="194.2" r="6.15"/>
<circle cx="1216.8" cy="115.1" r="6.15"/>
<circle cx="1217.9" cy="194.2" r="6.15"/>
<circle cx="1219.0" cy="128.3" r="6.15"/>
<circle cx="1220.1" cy="115.1" r="6.15"/>
<circle cx="1221.2" cy="128.3" r="6.15"/>
<circle cx="1222.3" cy="167.8" r="6.15"/>
<circle cx="1223.4" cy="115.1" r="6.15"/>
<circle cx="1224.6" cy="141.5" r="6.15"/>
<circle cx="1225.7" cy="128.3" r="6.15"/>
<circle cx="1226.8" cy="115.1" r="6.15"/>
<circle cx="1227.9" cy="128.3" r="6.15"/>
<circle cx="1229.0" cy="194.2" r="6.15"/>
<circle cx="1230.1" cy="128.3" r="6.15"/>
<circle cx="1231.2" cy="154.6" r="6.15"/>
<circle cx="1232.4" cy="167.8" r="6.15"/>
<circle cx="1233.5" cy="207.4" r="6.15"/>
<circle cx="1234.6" cy="128.3" r="6.15"/>
<circle cx="1235.7" cy="154.6" r="6.15"/>
<circle cx="1236.8" cy="457.9" r="6.15"/>
<circle cx="1237.9" cy="141.5" r="6.15"/>
<circle cx="1239.0" cy="115.1" r="6.15"/>
<circle cx="1240.2" cy="233.8" r="6.15"/>
<circle cx="1241.3" cy="207.4" r="6.15"/>
<circle cx="1242.4" cy="141.5" r="6.15"/>
<circle cx="1243.5" cy="220.6" r="6.15"/>
<circle cx="1244.6" cy="115.1" r="6.15"/>
<circle cx="1245.7" cy="141.5" r="6.15"/>
<circle cx="1246.8" cy="128.3" r="6.15"/>
<circle cx="1248.0" cy="260.1" r="6.15"/>
<circle cx="1249.1" cy="167.8" r="6.15"/>
<circle cx="1250.2" cy="141.5" r="6.15"/>
<circle cx="1251.3" cy="128.3" r="6.15"/>
<circle cx="1252.4" cy="115.1" r="6.15"/>
<circle cx="1253.5" cy="220.6" r="6.15"/>
<circle cx="1254.7" cy="299.7" r="6.15"/>
<circle cx="1255.8" cy="273.3" r="6.15"/>
<circle cx="1256.9" cy="220.6" r="6.15"/>
<circle cx="1258.0" cy="286.5" r="6.15"/>
<circle cx="1259.1" cy="167.8" r="6.15"/>
<circle cx="1260.2" cy="167.8" r="6.15"/>
<circle cx="1261.3" cy="141.5" r="6.15"/>
<circle cx="1262.5" cy="167.8" r="6.15"/>
<circle cx="1263.6" cy="181.0" r="6.15"/>
<circle cx="1264.7" cy="260.1" r="6.15"/>
<circle cx="1265.8" cy="141.5" r="6.15"/>
<circle cx="1266.9" cy="154.6" r="6.15"/>
<circle cx="1268.0" cy="128.3" r="6.15"/>
<circle cx="1269.1" cy="154.6" r="6.15"/>
<circle cx="1270.3" cy="141.5" r="6.15"/>
<circle cx="1271.4" cy="141.5" r="6.15"/>
<circle cx="1272.5" cy="299.7" r="6.15"/>
<circle cx="1273.6" cy="167.8" r="6.15"/>
</g>
<line x1="104.4" y1="233.8" x2="1329.3" y2="233.8" stroke="#000" stroke-width="2.85"/>
<g stroke="#333333" fill="none">
<line x1="105.15" y1="65.0" x2="105.15" y2="878.7" stroke-width="1.55"/>
<line x1="104.4" y1="65.8" x2="1330.4" y2="65.8" stroke-width="1.6"/>
<line x1="104.4" y1="877.3" x2="1330.4" y2="877.3" stroke-width="2.85"/>
<line x1="1329.2" y1="65.0" x2="1329.2" y2="878.7" stroke-width="2.4"/>
</g>
<g stroke="#333333" stroke-width="2.85">
<line x1="97.1" y1="102.2" x2="104.4" y2="102.2"/>
<line x1="97.1" y1="365.9" x2="104.4" y2="365.9"/>
<line x1="97.1" y1="629.7" x2="104.4" y2="629.7"/>
<line x1="158.9" y1="877.3" x2="158.9" y2="884.7"/>
<line x1="437.6" y1="877.3" x2="437.6" y2="884.7"/>
<line x1="716.2" y1="877.3" x2="716.2" y2="884.7"/>
<line x1="994.9" y1="877.3" x2="994.9" y2="884.7"/>
<line x1="1273.6" y1="877.3" x2="1273.6" y2="884.7"/>
</g>
<text class="tk" transform="translate(90.8,110.4) scale(1,0.945)" text-anchor="end">1.0</text>
<text class="tk" transform="translate(90.8,374.1) scale(1,0.945)" text-anchor="end">0.8</text>
<text class="tk" transform="translate(90.8,637.9) scale(1,0.945)" text-anchor="end">0.6</text>
<text class="tk" transform="translate(158.9,907.6) scale(1,0.945)" text-anchor="middle">0</text>
<text class="tk" transform="translate(437.6,907.6) scale(1,0.945)" text-anchor="middle">250</text>
<text class="tk" transform="translate(716.2,907.6) scale(1,0.945)" text-anchor="middle">500</text>
<text class="tk" transform="translate(994.9,907.6) scale(1,0.945)" text-anchor="middle">750</text>
<text class="tk" transform="translate(1273.6,907.6) scale(1,0.945)" text-anchor="middle">1000</text>
<text class="ax" x="717.6" y="944" text-anchor="middle" textLength="68.2" lengthAdjust="spacing">Rank</text>
<text class="ax" transform="translate(37,471.2) rotate(-90)" text-anchor="middle" textLength="238.5" lengthAdjust="spacing">Average Coverage</text>
</svg>
</body>
</html>
